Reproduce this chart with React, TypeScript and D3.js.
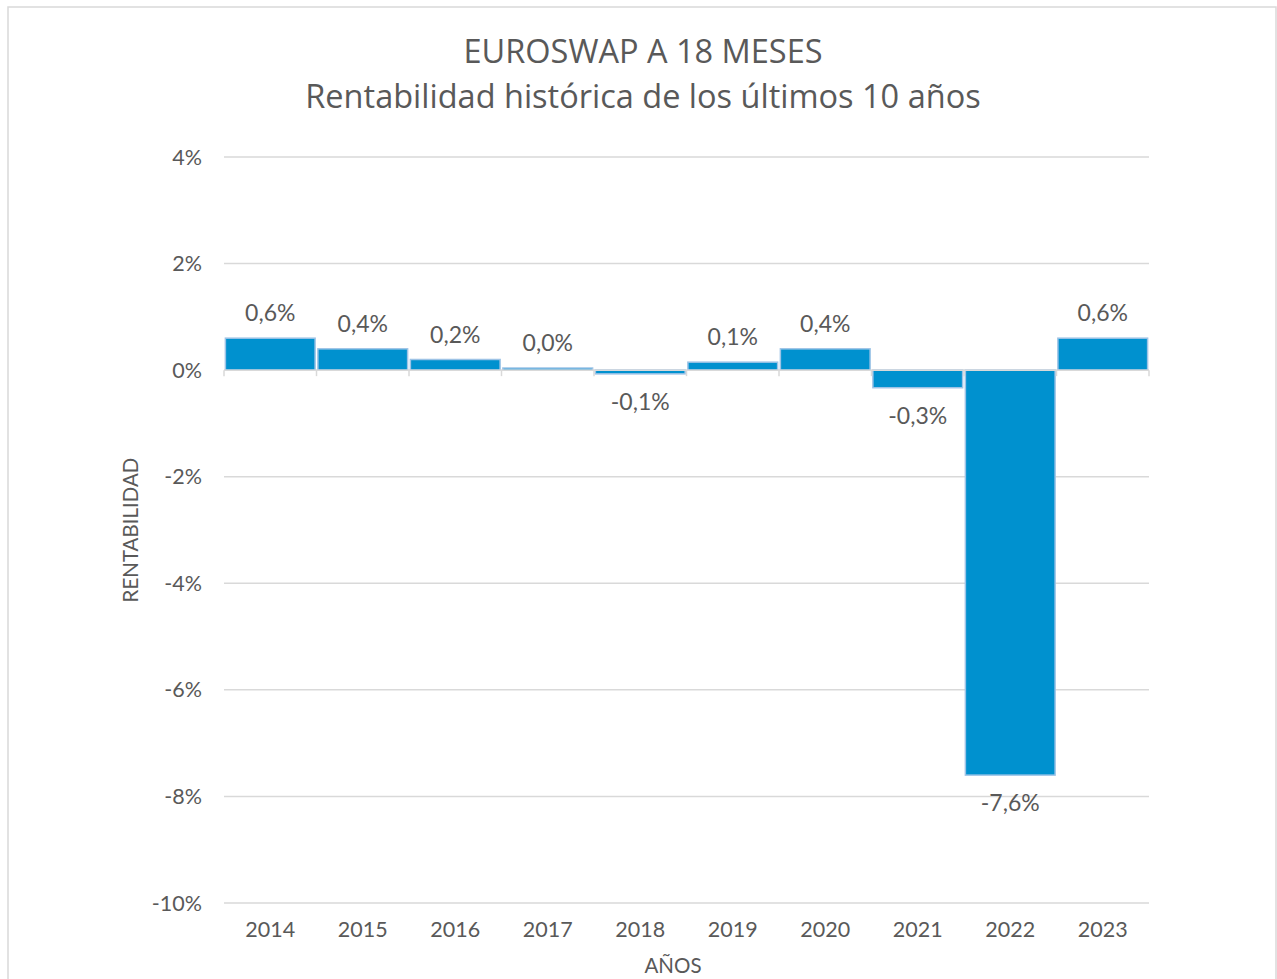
import * as d3 from "d3";
import React from "react";

// data
const years = ["2014", "2015", "2016", "2017", "2018", "2019", "2020", "2021", "2022", "2023"];
const returns = [0.6, 0.4, 0.2, 0.04, -0.07, 0.15, 0.4, -0.33, -7.6, 0.6];
const labels = ["0,6%", "0,4%", "0,2%", "0,0%", "-0,1%", "0,1%", "0,4%", "-0,3%", "-7,6%", "0,6%"];
const yTicks = [4, 2, 0, -2, -4, -6, -8, -10];

const W = 1277;
const H = 979;
const margin = {top: 157, right: 128, bottom: 76, left: 224};
const font = "Lato, 'Noto Sans', sans-serif";
const titleFont = "'Open Sans', 'Noto Sans', sans-serif";
const grey = "#595959";

const App = () => {
    const innerW = W - margin.left - margin.right;
    const innerH = H - margin.top - margin.bottom;

    const x = d3.scaleBand()
        .domain(years)
        .range([0, innerW])
        .paddingInner(0.03)
        .paddingOuter(0.015);
    const y = d3.scaleLinear()
        .domain([-10, 4])
        .range([innerH, 0]);

    const step = x.step();
    const y0 = y(0);

    return (
        <svg width={W} height={H} style={{position: "absolute", left: 0, top: 0, background: "#fff"}}>
            {/* chart frame */}
            <rect x={8} y={7} width={1268} height={990} fill="#fff" stroke="#d9d9d9" strokeWidth={1.5}/>

            <text x={643} y={63} textAnchor="middle" fontFamily={titleFont} fontSize={32.5} fill={grey}>
                EUROSWAP A 18 MESES
            </text>
            <text x={643} y={108} textAnchor="middle" fontFamily={titleFont} fontSize={32.5} fill={grey}>
                Rentabilidad histórica de los últimos 10 años
            </text>

            <g transform={`translate(${margin.left},${margin.top})`}>
                {/* gridlines + y labels */}
                {yTicks.map(t => (
                    <g key={t}>
                        <line x1={0} x2={innerW} y1={y(t)} y2={y(t)} stroke="#d9d9d9" strokeWidth={1.5}/>
                        <text x={-22} y={y(t)} dy="0.35em" textAnchor="end" fontFamily={font} fontSize={21.5}
                              fill={grey}>{t}%</text>
                    </g>
                ))}

                {/* bars */}
                {years.map((yr, i) => {
                    const v = returns[i];
                    const top = Math.min(y(v), y0);
                    const h = Math.abs(y(v) - y0);
                    return (
                        <rect key={yr} x={x(yr)} y={top} width={x.bandwidth()} height={Math.max(h, 0.5)}
                              fill="#0091cf" stroke="#9dc3e6" strokeWidth={1.5}/>
                    );
                })}

                {/* zero axis line with category ticks */}
                <line x1={0} x2={innerW} y1={y0} y2={y0} stroke="#d9d9d9" strokeWidth={1.5}/>
                {d3.range(years.length + 1).map(k => (
                    <line key={k} x1={k * step} x2={k * step} y1={y0} y2={y0 + 6} stroke="#d9d9d9"
                          strokeWidth={1.5}/>
                ))}

                {/* data labels */}
                {years.map((yr, i) => {
                    const v = returns[i];
                    const cx = x(yr) + x.bandwidth() / 2;
                    const ly = v >= 0 ? y(v) - 25 : y(v) + 28;
                    return (
                        <text key={yr} x={cx} y={ly} dy="0.35em" textAnchor="middle" fontFamily={font}
                              fontSize={23} fill={grey}>{labels[i]}</text>
                    );
                })}

                {/* x labels */}
                {years.map(yr => (
                    <text key={yr} x={x(yr) + x.bandwidth() / 2} y={innerH + 26} dy="0.35em" textAnchor="middle"
                          fontFamily={font} fontSize={21.5} fill={grey}>{yr}</text>
                ))}
            </g>

            <text x={673} y={966} dy="0.35em" textAnchor="middle" fontFamily={font} fontSize={20.5} fill={grey}>
                AÑOS
            </text>
            <text transform="translate(131,530) rotate(-90)" dy="0.35em" textAnchor="middle" fontFamily={font}
                  fontSize={20.5} fill={grey}>RENTABILIDAD
            </text>
        </svg>
    );
};

export default App;
